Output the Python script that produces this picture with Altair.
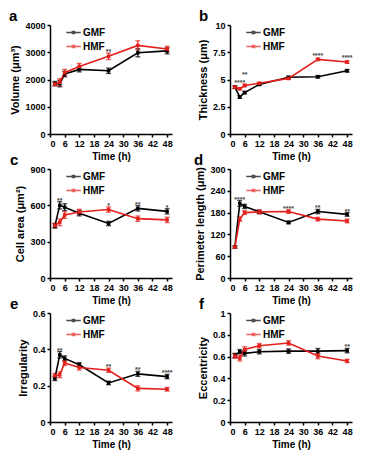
import altair as alt
import pandas as pd

times = [2, 4, 6, 12, 24, 36, 48]
series_names = ["GMF", "HMF"]
series_colors = ["#000000", "#e3201b"]

vol_gmf = [1850, 1850, 2200, 2370, 2320, 2980, 3050]
vol_gmf_err = [80, 120, 100, 90, 100, 150, 110]
vol_hmf = [1830, 1900, 2250, 2480, 2850, 3250, 3120]
vol_hmf_err = [60, 130, 120, 110, 120, 170, 100]
vol_sig = ["", "", "", "", "**", "", ""]

thk_gmf = [4.3, 3.4, 3.8, 4.55, 5.2, 5.25, 5.8]
thk_gmf_err = [0.12, 0.12, 0.12, 0.1, 0.1, 0.12, 0.12]
thk_hmf = [4.3, 4.15, 4.45, 4.65, 5.1, 6.85, 6.6]
thk_hmf_err = [0.12, 0.1, 0.12, 0.1, 0.1, 0.12, 0.12]
thk_sig = ["", "****", "**", "", "", "****", "****"]
thk_sig_level = [0, 4.6, 5.3, 0, 0, 7.1, 6.85]

area_gmf = [430, 600, 585, 535, 450, 575, 550]
area_gmf_err = [18, 30, 28, 22, 18, 22, 22]
area_hmf = [435, 460, 520, 545, 565, 490, 480]
area_hmf_err = [18, 28, 28, 22, 22, 22, 22]
area_sig = ["", "**", "", "", "*", "**", "*"]

per_gmf = [85, 205, 197, 182, 153, 183, 175]
per_gmf_err = [3, 8, 6, 5, 4, 6, 5]
per_hmf = [85, 162, 180, 182, 183, 162, 157]
per_hmf_err = [3, 6, 5, 5, 5, 5, 5]
per_sig = ["", "****", "", "", "****", "**", "**"]

irr_gmf = [0.24, 0.37, 0.35, 0.315, 0.215, 0.265, 0.25]
irr_gmf_err = [0.012, 0.018, 0.014, 0.012, 0.01, 0.014, 0.012]
irr_hmf = [0.255, 0.26, 0.325, 0.30, 0.285, 0.185, 0.18]
irr_hmf_err = [0.012, 0.016, 0.014, 0.014, 0.012, 0.014, 0.01]
irr_sig = ["", "**", "", "", "**", "**", "****"]

ecc_gmf = [0.61, 0.645, 0.63, 0.645, 0.65, 0.65, 0.655]
ecc_gmf_err = [0.02, 0.02, 0.025, 0.02, 0.02, 0.025, 0.02]
ecc_hmf = [0.605, 0.585, 0.665, 0.70, 0.725, 0.605, 0.56]
ecc_hmf_err = [0.02, 0.025, 0.025, 0.02, 0.02, 0.025, 0.015]
ecc_sig = ["", "", "", "", "", "", "**"]

x_ticks = [0, 6, 12, 18, 24, 30, 36, 42, 48]

FONT = "Liberation Sans"
W, H = 122, 109


def make_legend():
    return alt.Legend(
        orient="none", legendX=15, legendY=-1, title=None,
        symbolType="M-1,0H1M-0.14,-0.14H0.14V0.14H-0.14Z",
        symbolSize=210, symbolStrokeWidth=1.6, rowPadding=0,
        labelFont=FONT, labelFontSize=10, labelFontWeight="bold",
        labelColor="#000000", labelOffset=1,
    )


def panel(letter, gm, gme, hm, hme, sig, ytitle, ymax, yticks, letter_dx,
          sig_level=None):
    rows = []
    for name, vals, errs in (("GMF", gm, gme), ("HMF", hm, hme)):
        for t, v, e in zip(times, vals, errs):
            rows.append({"t": t, "v": v, "lo": v - e, "hi": v + e, "series": name})
    df = pd.DataFrame(rows)
    if sig_level is None:
        tops = [max(a + b, c + d) for a, b, c, d in zip(gm, gme, hm, hme)]
    else:
        tops = sig_level
    sig_df = pd.DataFrame({"t": times, "top": tops, "label": sig})
    sig_df = sig_df[sig_df["label"] != ""]

    xscale = alt.Scale(domain=[0, 50], nice=False, zero=True)
    xenc = alt.X("t:Q", scale=xscale,
                 axis=alt.Axis(values=x_ticks, tickCount=50, title="Time (h)",
                               labelExpr="'' + datum.value",
                               labelOverlap=False))
    yscale = alt.Scale(domain=[0, ymax], nice=False)
    yaxis = alt.Axis(values=yticks, tickCount=50, title=ytitle,
                     labelExpr="'' + datum.value", labelOverlap=False)
    cscale = alt.Scale(domain=series_names, range=series_colors)

    base = alt.Chart(df)
    err = base.mark_errorbar(
        ticks={"size": 5, "thickness": 1.3}, rule={"strokeWidth": 1.2}
    ).encode(
        x=xenc,
        y=alt.Y("lo:Q", scale=yscale, axis=yaxis),
        y2="hi:Q",
        color=alt.Color("series:N", scale=cscale, legend=make_legend()),
    )
    line = base.mark_line(
        strokeWidth=1.6,
        point=alt.OverlayMarkDef(shape="square", size=12, filled=True),
    ).encode(
        x=xenc,
        y=alt.Y("v:Q", scale=yscale, axis=yaxis),
        color=alt.Color("series:N", scale=cscale, legend=make_legend()),
    )
    stars = alt.Chart(sig_df).mark_text(
        font=FONT, fontSize=7, fontWeight="bold", color="#444444",
        baseline="alphabetic", dy=1,
    ).encode(
        x=alt.X("t:Q", scale=xscale),
        y=alt.Y("top:Q", scale=yscale),
        text="label:N",
    )
    lab = alt.Chart(pd.DataFrame({"letter": [letter]})).mark_text(
        font=FONT, fontSize=15, fontWeight="bold", color="#000000",
        align="left", baseline="middle",
    ).encode(
        x=alt.value(letter_dx), y=alt.value(-9), text="letter:N",
    )
    return alt.layer(err, line, stars, lab).properties(width=W, height=H)


pa = panel("a", vol_gmf, vol_gmf_err, vol_hmf, vol_hmf_err, vol_sig,
           "Volume (μm³)", 4000, [0, 1000, 2000, 3000, 4000], -41)
pb = panel("b", thk_gmf, thk_gmf_err, thk_hmf, thk_hmf_err, thk_sig,
           "Thickness (μm)", 10, [0, 2.5, 5, 7.5, 10], -31, thk_sig_level)
pc = panel("c", area_gmf, area_gmf_err, area_hmf, area_hmf_err, area_sig,
           "Cell area (μm²)", 900, [0, 300, 600, 900], -40)
pd_ = panel("d", per_gmf, per_gmf_err, per_hmf, per_hmf_err, per_sig,
            "Perimeter length (μm)", 300, [0, 60, 120, 180, 240, 300], -36)
pe = panel("e", irr_gmf, irr_gmf_err, irr_hmf, irr_hmf_err, irr_sig,
           "Irregularity", 0.6, [0, 0.2, 0.4, 0.6], -40)
pf = panel("f", ecc_gmf, ecc_gmf_err, ecc_hmf, ecc_hmf_err, ecc_sig,
           "Eccentricity", 1, [0, 0.2, 0.4, 0.6, 0.8, 1], -31)

chart = alt.concat(
    pa, pb, pc, pd_, pe, pf, columns=2,
    spacing={"row": 35, "column": 58}, bounds="flush",
).resolve_scale(
    x="independent", y="independent", color="independent"
).resolve_legend(color="independent").properties(
    padding={"left": 0, "top": 0, "right": 2, "bottom": 2}
).configure_view(stroke="transparent").configure_axis(
    grid=False, domainColor="#000000", domainWidth=1.5,
    tickColor="#000000", tickWidth=1.5, tickSize=3,
    labelFont=FONT, labelFontSize=9, labelFontWeight="bold", labelColor="#000000",
    labelPadding=2,
    titleFont=FONT, titleFontSize=10, titleFontWeight="bold", titleColor="#000000",
).configure_axisX(titlePadding=3).configure_axisY(titleFontSize=11, titlePadding=4)

chart.save("out.html", embed_options={"renderer": "svg", "actions": False})
